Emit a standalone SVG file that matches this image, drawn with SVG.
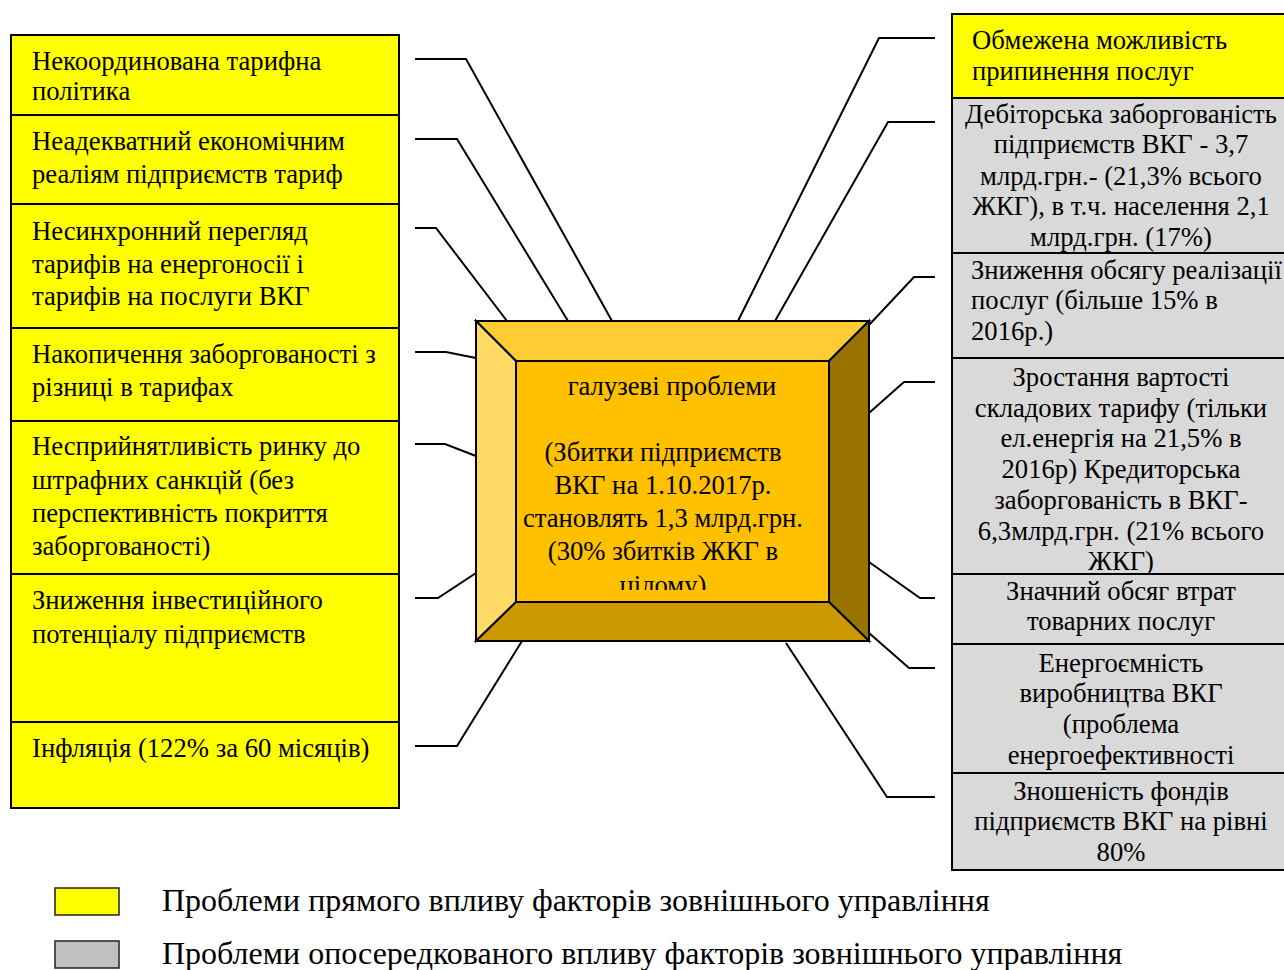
<svg xmlns="http://www.w3.org/2000/svg" width="1284" height="970" viewBox="0 0 1284 970">
  <style>
    text { font-family: "Liberation Serif", "Times New Roman", serif; font-size: 26.67px; fill: #000; }
    .box { stroke: #000; stroke-width: 2; }
    .direct { fill: #ffff00; }
    .indirect { fill: #d9d9d9; }
    .mid { text-anchor: middle; }
    .conn { fill: none; stroke: #000; stroke-width: 2; }
    .legend { font-size: 32px; }
    .bevel { stroke: #000; stroke-width: 2; stroke-linejoin: miter; }
  </style>
  <defs>
    <clipPath id="coreClip">
      <rect x="516" y="361" width="313" height="229"/>
    </clipPath>
  </defs>
  <rect width="1284" height="970" fill="#fff"/>

  <!-- connectors -->
  <g id="connectors">
    <polyline class="conn" points="415,59 466,59 612,321"/>
    <polyline class="conn" points="415,139 457,139 568,321"/>
    <polyline class="conn" points="415,228 436,228 507,321"/>
    <polyline class="conn" points="415,352 446,352 476,358"/>
    <polyline class="conn" points="415,444 445,444 476,456"/>
    <polyline class="conn" points="415,598 438,598 476,573"/>
    <polyline class="conn" points="415,746 457,746 522,641"/>
    <polyline class="conn" points="738,321 879,38 935,38"/>
    <polyline class="conn" points="775,321 888,122 935,122"/>
    <polyline class="conn" points="869,325 914,277 935,277"/>
    <polyline class="conn" points="869,413 904,382 935,382"/>
    <polyline class="conn" points="869,562 920,598 935,598"/>
    <polyline class="conn" points="869,633 909,668 935,668"/>
    <polyline class="conn" points="786,643 887,797 935,797"/>
  </g>

  <!-- central bevelled block -->
  <g id="core">
    <polygon class="bevel" fill="#ffcc33" points="476,321 869,321 829,361 516,361"/>
    <polygon class="bevel" fill="#ffd966" points="476,321 516,361 516,602 476,641"/>
    <polygon class="bevel" fill="#997300" points="869,321 869,641 829,602 829,361"/>
    <polygon class="bevel" fill="#cc9900" points="476,641 516,602 829,602 869,641"/>
    <rect class="bevel" fill="#ffc000" x="516" y="361" width="313" height="241"/>
    <g clip-path="url(#coreClip)">
      <text class="mid" x="672" y="395">галузеві проблеми</text>
      <text class="mid" x="663" y="461">(Збитки підприємств</text>
      <text class="mid" x="663" y="494">ВКГ на 1.10.2017р.</text>
      <text class="mid" x="663" y="527">становлять 1,3 млрд.грн.</text>
      <text class="mid" x="663" y="560">(30% збитків ЖКГ в</text>
      <text class="mid" x="663" y="594">цілому)</text>
    </g>
  </g>

  <!-- left column: direct-influence problems -->
  <g id="left-1">
    <rect class="box direct" x="11" y="35" width="388" height="80"/>
    <text x="32" y="70">Некоординована тарифна</text>
    <text x="32" y="100">політика</text>
  </g>
  <g id="left-2">
    <rect class="box direct" x="11" y="115" width="388" height="89"/>
    <text x="32" y="150">Неадекватний економічним</text>
    <text x="32" y="183">реаліям підприємств тариф</text>
  </g>
  <g id="left-3">
    <rect class="box direct" x="11" y="204" width="388" height="124"/>
    <text x="32" y="240">Несинхронний перегляд</text>
    <text x="32" y="273">тарифів на енергоносії і</text>
    <text x="32" y="305">тарифів на послуги ВКГ</text>
  </g>
  <g id="left-4">
    <rect class="box direct" x="11" y="328" width="388" height="93"/>
    <text x="32" y="363">Накопичення заборгованості з</text>
    <text x="32" y="396">різниці в тарифах</text>
  </g>
  <g id="left-5">
    <rect class="box direct" x="11" y="421" width="388" height="153"/>
    <text x="32" y="455">Несприйнятливість ринку до</text>
    <text x="32" y="489">штрафних санкцій (без</text>
    <text x="32" y="522">перспективність покриття</text>
    <text x="32" y="555">заборгованості)</text>
  </g>
  <g id="left-6">
    <rect class="box direct" x="11" y="574" width="388" height="148"/>
    <text x="32" y="609">Зниження інвестиційного</text>
    <text x="32" y="643">потенціалу підприємств</text>
  </g>
  <g id="left-7">
    <rect class="box direct" x="11" y="722" width="388" height="86"/>
    <text x="32" y="757">Інфляція (122% за 60 місяців)</text>
  </g>

  <!-- right column -->
  <g id="right-1">
    <rect class="box direct" x="952" y="14" width="340" height="84"/>
    <text x="972" y="49">Обмежена можливість</text>
    <text x="972" y="80">припинення послуг</text>
  </g>
  <g id="right-2">
    <rect class="box indirect" x="952" y="98" width="340" height="155"/>
    <text class="mid" x="1121" y="123">Дебіторська заборгованість</text>
    <text class="mid" x="1121" y="153">підприємств ВКГ - 3,7</text>
    <text class="mid" x="1121" y="185">млрд.грн.- (21,3% всього</text>
    <text class="mid" x="1121" y="215">ЖКГ), в т.ч. населення 2,1</text>
    <text class="mid" x="1121" y="246">млрд.грн. (17%)</text>
  </g>
  <g id="right-3">
    <rect class="box indirect" x="952" y="253" width="340" height="105"/>
    <text x="971" y="279">Зниження обсягу реалізації</text>
    <text x="971" y="309">послуг (більше 15% в</text>
    <text x="971" y="340">2016р.)</text>
  </g>
  <g id="right-4">
    <rect class="box indirect" x="952" y="358" width="340" height="216"/>
    <text class="mid" x="1121" y="386">Зростання вартості</text>
    <text class="mid" x="1121" y="417">складових тарифу (тільки</text>
    <text class="mid" x="1121" y="447">ел.енергія на 21,5% в</text>
    <text class="mid" x="1121" y="478">2016р) Кредиторська</text>
    <text class="mid" x="1121" y="509">заборгованість в ВКГ-</text>
    <text class="mid" x="1121" y="540">6,3млрд.грн. (21% всього</text>
    <text class="mid" x="1121" y="570">ЖКГ)</text>
  </g>
  <g id="right-5">
    <rect class="box indirect" x="952" y="574" width="340" height="70"/>
    <text class="mid" x="1121" y="600">Значний обсяг втрат</text>
    <text class="mid" x="1121" y="630">товарних послуг</text>
  </g>
  <g id="right-6">
    <rect class="box indirect" x="952" y="644" width="340" height="129"/>
    <text class="mid" x="1121" y="672">Енергоємність</text>
    <text class="mid" x="1121" y="702">виробництва ВКГ</text>
    <text class="mid" x="1121" y="733">(проблема</text>
    <text class="mid" x="1121" y="764">енергоефективності</text>
  </g>
  <g id="right-7">
    <rect class="box indirect" x="952" y="773" width="340" height="97"/>
    <text class="mid" x="1121" y="800">Зношеність фондів</text>
    <text class="mid" x="1121" y="830">підприємств ВКГ на рівні</text>
    <text class="mid" x="1121" y="861">80%</text>
  </g>

  <!-- legend -->
  <g id="legend">
    <rect x="55" y="888" width="64" height="27" fill="#ffff00" stroke="#222" stroke-width="1.5"/>
    <text class="legend" x="162" y="911">Проблеми прямого впливу факторів зовнішнього управління</text>
    <rect x="55" y="941" width="64" height="27" fill="#c0c0c0" stroke="#222" stroke-width="1.5"/>
    <text class="legend" x="162" y="964">Проблеми опосередкованого впливу факторів зовнішнього управління</text>
  </g>
</svg>
